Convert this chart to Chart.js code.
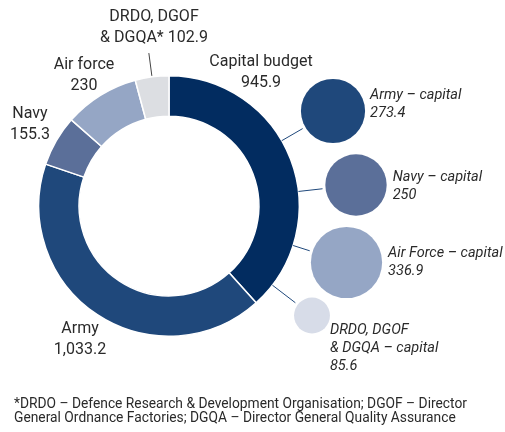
<!DOCTYPE html>
<html>
<head>
<meta charset="utf-8">
<script src="https://cdn.jsdelivr.net/npm/chart.js@4.4.1/dist/chart.umd.min.js"></script>
<style>
  body { margin: 0; background: #fff; }
  #wrap { position: relative; width: 505px; height: 390px; }
  #wrap canvas { position: absolute; left: 0; top: 0; }
  #note {
    position: absolute; left: 14px; top: 396px;
    font: 13.8px Roboto, sans-serif;
    line-height: 14px; color: #2a2a2a;
  }
</style>
</head>
<body>
<div id="wrap">
  <canvas id="ring" width="505" height="390"></canvas>
  <canvas id="bubbles" width="505" height="390"></canvas>
</div>
<div id="note">*DRDO – Defence Research &amp; Development Organisation; DGOF – Director<br>General Ordnance Factories; DGQA – Director General Quality Assurance</div>

<script>
// defence budget split (ring) and capital spend by service (bubbles)
const budgetNames = ['Capital budget', 'Army', 'Navy', 'Air force', 'DRDO, DGOF\n& DGQA*'];
const budgetValues = [945.9, 1033.2, 155.3, 230, 102.9];
const budgetColors = ['#022c60', '#1f487b', '#5b6f99', '#95a6c5', '#dcdee2'];

const capitalNames = ['Army – capital', 'Navy – capital', 'Air Force – capital', 'DRDO, DGOF\n& DGQA – capital'];
const capitalValues = [273.4, 250, 336.9, 85.6];
const capitalColors = ['#1f487b', '#5b6f99', '#95a6c5', '#d7dce8'];

// where things sit on the canvas
const ringLabelSpots = [[261, 62], [80, 329], [30, 114], [84, 65], [154, 17]];
const bubbleSpots = [[333, 111], [356, 185], [346.5, 262.5], [312, 315.5]];
const bubbleLabelNudge = [[5, -16], [6, -8], [6, -9.5], [0, 15]];

const textColor = '#2a2a2a';
const fontFamily = 'Roboto, sans-serif';

function fmt(v) {
  return v.toLocaleString('en-US', { maximumFractionDigits: 1 });
}

function bubbleRadius(v) {
  return 1.94 * Math.sqrt(v);
}

function drawLines(ctx, lines, x, y, step, align) {
  ctx.textAlign = align;
  ctx.textBaseline = 'middle';
  lines.forEach((t, i) => ctx.fillText(t, x, y + i * step));
}

// --- Ring ---
const ringLabels = {
  id: 'ringLabels',
  afterDraw(chart) {
    const ctx = chart.ctx;
    const arcs = chart.getDatasetMeta(0).data;
    ctx.save();

    // short leader for the smallest slice
    const last = arcs[arcs.length - 1];
    const mid = (last.startAngle + last.endAngle) / 2;
    ctx.strokeStyle = '#444';
    ctx.lineWidth = 1;
    ctx.beginPath();
    ctx.moveTo(last.x + Math.cos(mid) * (last.outerRadius + 1), last.y + Math.sin(mid) * (last.outerRadius + 1));
    ctx.lineTo(last.x + Math.cos(mid) * (last.outerRadius + 24), last.y + Math.sin(mid) * (last.outerRadius + 24));
    ctx.stroke();

    ctx.fillStyle = textColor;
    ctx.font = '16px ' + fontFamily;
    budgetNames.forEach((name, i) => {
      const lines = name.split('\n');
      if (i === budgetNames.length - 1) {
        lines[lines.length - 1] += ' ' + fmt(budgetValues[i]);
      } else {
        lines.push(fmt(budgetValues[i]));
      }
      const [x, y] = ringLabelSpots[i];
      drawLines(ctx, lines, x, y, 21, 'center');
    });
    ctx.restore();
  }
};

const ringChart = new Chart(document.getElementById('ring'), {
  type: 'doughnut',
  data: {
    labels: budgetNames,
    datasets: [{
      data: budgetValues,
      backgroundColor: budgetColors,
      borderColor: '#ffffff',
      borderWidth: 1.5
    }]
  },
  options: {
    responsive: false,
    animation: false,
    cutout: '69%',
    layout: { padding: { left: 38, top: 75, right: 205, bottom: 53 } },
    plugins: { legend: { display: false }, tooltip: { enabled: false } }
  },
  plugins: [ringLabels]
});

// --- Capital bubbles ---
const bubbleExtras = {
  id: 'bubbleExtras',
  beforeDatasetsDraw(chart) {
    const ctx = chart.ctx;
    const hub = ringChart.getDatasetMeta(0).data[0];
    ctx.save();
    ctx.strokeStyle = '#1f487b';
    ctx.lineWidth = 1;
    chart.getDatasetMeta(0).data.forEach(pt => {
      const dx = pt.x - hub.x, dy = pt.y - hub.y;
      const d = Math.hypot(dx, dy);
      const ux = dx / d, uy = dy / d;
      const r = pt.options.radius;
      ctx.beginPath();
      ctx.moveTo(hub.x + ux * hub.outerRadius, hub.y + uy * hub.outerRadius);
      ctx.lineTo(pt.x - ux * (r + 3), pt.y - uy * (r + 3));
      ctx.stroke();
    });
    ctx.restore();
  },
  afterDatasetsDraw(chart) {
    const ctx = chart.ctx;
    ctx.save();
    ctx.fillStyle = textColor;
    ctx.font = 'italic 14.5px ' + fontFamily;
    chart.getDatasetMeta(0).data.forEach((pt, i) => {
      const lines = capitalNames[i].split('\n');
      lines.push(fmt(capitalValues[i]));
      const [nx, ny] = bubbleLabelNudge[i];
      drawLines(ctx, lines, pt.x + pt.options.radius + nx, pt.y + ny, 18, 'left');
    });
    ctx.restore();
  }
};

new Chart(document.getElementById('bubbles'), {
  type: 'bubble',
  data: {
    datasets: [{
      data: capitalValues.map((v, i) => ({ x: bubbleSpots[i][0], y: bubbleSpots[i][1], r: bubbleRadius(v) })),
      backgroundColor: capitalColors,
      borderWidth: 0
    }]
  },
  options: {
    responsive: false,
    animation: false,
    layout: { autoPadding: false, padding: 0 },
    scales: {
      x: { type: 'linear', min: 0, max: 505, display: false },
      y: { type: 'linear', min: 0, max: 390, reverse: true, display: false }
    },
    plugins: { legend: { display: false }, tooltip: { enabled: false } }
  },
  plugins: [bubbleExtras]
});
</script>
</body>
</html>
